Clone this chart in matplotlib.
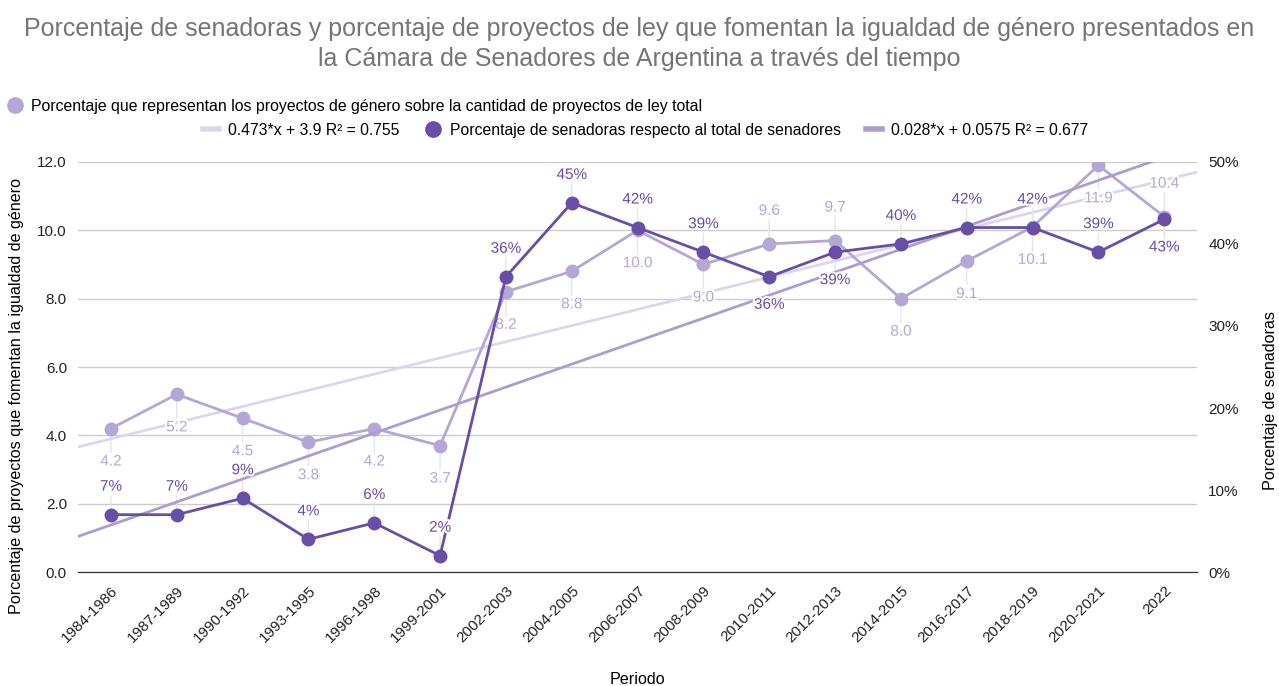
import matplotlib
matplotlib.use("Agg")
import matplotlib.pyplot as plt
from matplotlib.lines import Line2D
from matplotlib.ticker import FuncFormatter
import matplotlib.patheffects as pe
import numpy as np

plt.rcParams['font.family'] = ['Liberation Sans', 'DejaVu Sans']

# data
periodos = ["1984-1986", "1987-1989", "1990-1992", "1993-1995", "1996-1998", "1999-2001",
            "2002-2003", "2004-2005", "2006-2007", "2008-2009", "2010-2011", "2012-2013",
            "2014-2015", "2016-2017", "2018-2019", "2020-2021", "2022"]
proyectos_genero = [4.2, 5.2, 4.5, 3.8, 4.2, 3.7, 8.2, 8.8, 10.0, 9.0, 9.6, 9.7, 8.0, 9.1, 10.1, 11.9, 10.4]
senadoras = [0.07, 0.07, 0.09, 0.04, 0.06, 0.02, 0.36, 0.45, 0.42, 0.39, 0.36, 0.39, 0.40, 0.42, 0.42, 0.39, 0.43]
trend_proy = (0.473, 3.9)      # slope, intercept
trend_sen = (0.028, 0.0575)

# label placement: 1 above, -1 below
pos_proy = [-1, -1, -1, -1, -1, -1, -1, -1, -1, -1, 1, 1, -1, -1, -1, -1, 1]
pos_sen = [1, 1, 1, 1, 1, 1, 1, 1, 1, 1, -1, -1, 1, 1, 1, 1, -1]

c_light = '#b4a7d6'
c_dark = '#674ea7'
c_trend1 = '#dcd6ec'
c_trend2 = '#ab9ecf'
fs = 11

fig = plt.figure(figsize=(12.79, 6.86), dpi=100)
ax = fig.add_axes([0.061, 0.166, 0.875, 0.598])
ax2 = ax.twinx()

x = np.arange(len(periodos))
xt = np.array([-0.5, len(periodos) - 0.5])

ax.plot(xt, trend_proy[0] * xt + trend_proy[1], color=c_trend1, lw=2, zorder=2)
ax.plot(x, proyectos_genero, color=c_light, lw=2, marker='o', ms=9, zorder=3)
ax2.plot(xt, trend_sen[0] * xt + trend_sen[1], color=c_trend2, lw=2, zorder=2)
ax2.plot(x, senadoras, color=c_dark, lw=2, marker='o', ms=9, zorder=3)

halo = [pe.withStroke(linewidth=3, foreground='white')]


def etiquetas(a, vals, pos, fmt, color, off):
    for i, v in enumerate(vals):
        d = pos[i]
        # leader line, behind the markers
        a.annotate("", (i, v), xytext=(0, (off - 9) * d), textcoords='offset pixels',
                   arrowprops=dict(arrowstyle='-', color='#e6e6e6', lw=1, shrinkA=0, shrinkB=0),
                   zorder=1)
        a.annotate(fmt(v), (i, v), xytext=(0, off * d), textcoords='offset pixels',
                   ha='center', va='center', color=color, fontsize=fs, path_effects=halo,
                   zorder=4)


etiquetas(ax, proyectos_genero, pos_proy, lambda v: f"{v:.1f}", c_light, 33)
etiquetas(ax2, senadoras, pos_sen, lambda v: f"{v * 100:.0f}%", c_dark, 28)

ax.set_xlim(-0.5, len(periodos) - 0.5)
ax.set_ylim(0, 12)
ax2.set_ylim(0, 0.5)
ax.set_yticks(np.arange(0, 12.1, 2))
ax.yaxis.set_major_formatter(FuncFormatter(lambda v, p: f"{v:.1f}"))
ax2.set_yticks(np.arange(0, 0.51, 0.1))
ax2.yaxis.set_major_formatter(FuncFormatter(lambda v, p: f"{v * 100:.0f}%"))
ax.set_xticks(x)
ax.set_xticklabels(periodos, rotation=45, ha='right', rotation_mode='anchor')

ax.grid(axis='y', color='#cccccc', lw=1)
ax.set_axisbelow(True)
for a in (ax, ax2):
    for s in ('top', 'right', 'left'):
        a.spines[s].set_visible(False)
    a.spines['bottom'].set_color('#333333')
    a.tick_params(length=0, labelsize=fs, labelcolor='#222222')
ax.tick_params(axis='x', pad=8)
ax.tick_params(axis='y', pad=8)
ax2.tick_params(axis='y', pad=8)

# axis titles
fig.text(637 / 1279, 1 - 679 / 686, "Periodo", ha='center', va='center', fontsize=11.6)
fig.text(17 / 1279, 1 - 396 / 686, "Porcentaje de proyectos que fomentan la igualdad de género",
         rotation=90, ha='center', va='center', fontsize=11.6)
fig.text(1271 / 1279, 1 - 400 / 686, "Porcentaje de senadoras",
         rotation=90, ha='center', va='center', fontsize=11.6)

fig.text(0.5, 0.975, "Porcentaje de senadoras y porcentaje de proyectos de ley que fomentan la igualdad de género presentados en\n"
         "la Cámara de Senadores de Argentina a través del tiempo",
         ha='center', va='top', fontsize=18, color='#757575', linespacing=1.3)

h1 = [Line2D([], [], color=c_light, marker='o', ms=11, lw=0)]
fig.legend(h1, ["Porcentaje que representan los proyectos de género sobre la cantidad de proyectos de ley total"],
           loc='center left', bbox_to_anchor=(0.007, 0.845), frameon=False, fontsize=11.4,
           handlelength=0.8, handletextpad=0.6, borderpad=0, borderaxespad=0)
h2 = [Line2D([], [], color=c_trend1, lw=4),
      Line2D([], [], color=c_dark, marker='o', ms=11, lw=0),
      Line2D([], [], color=c_trend2, lw=4)]
fig.legend(h2, ["0.473*x + 3.9 R² = 0.755", "Porcentaje de senadoras respecto al total de senadores",
                "0.028*x + 0.0575 R² = 0.677"],
           loc='center', bbox_to_anchor=(0.505, 0.81), ncol=3, frameon=False, fontsize=11.3,
           handlelength=1.0, handletextpad=0.6, columnspacing=1.6, borderpad=0, borderaxespad=0)

fig.savefig("out.png", dpi=100)
